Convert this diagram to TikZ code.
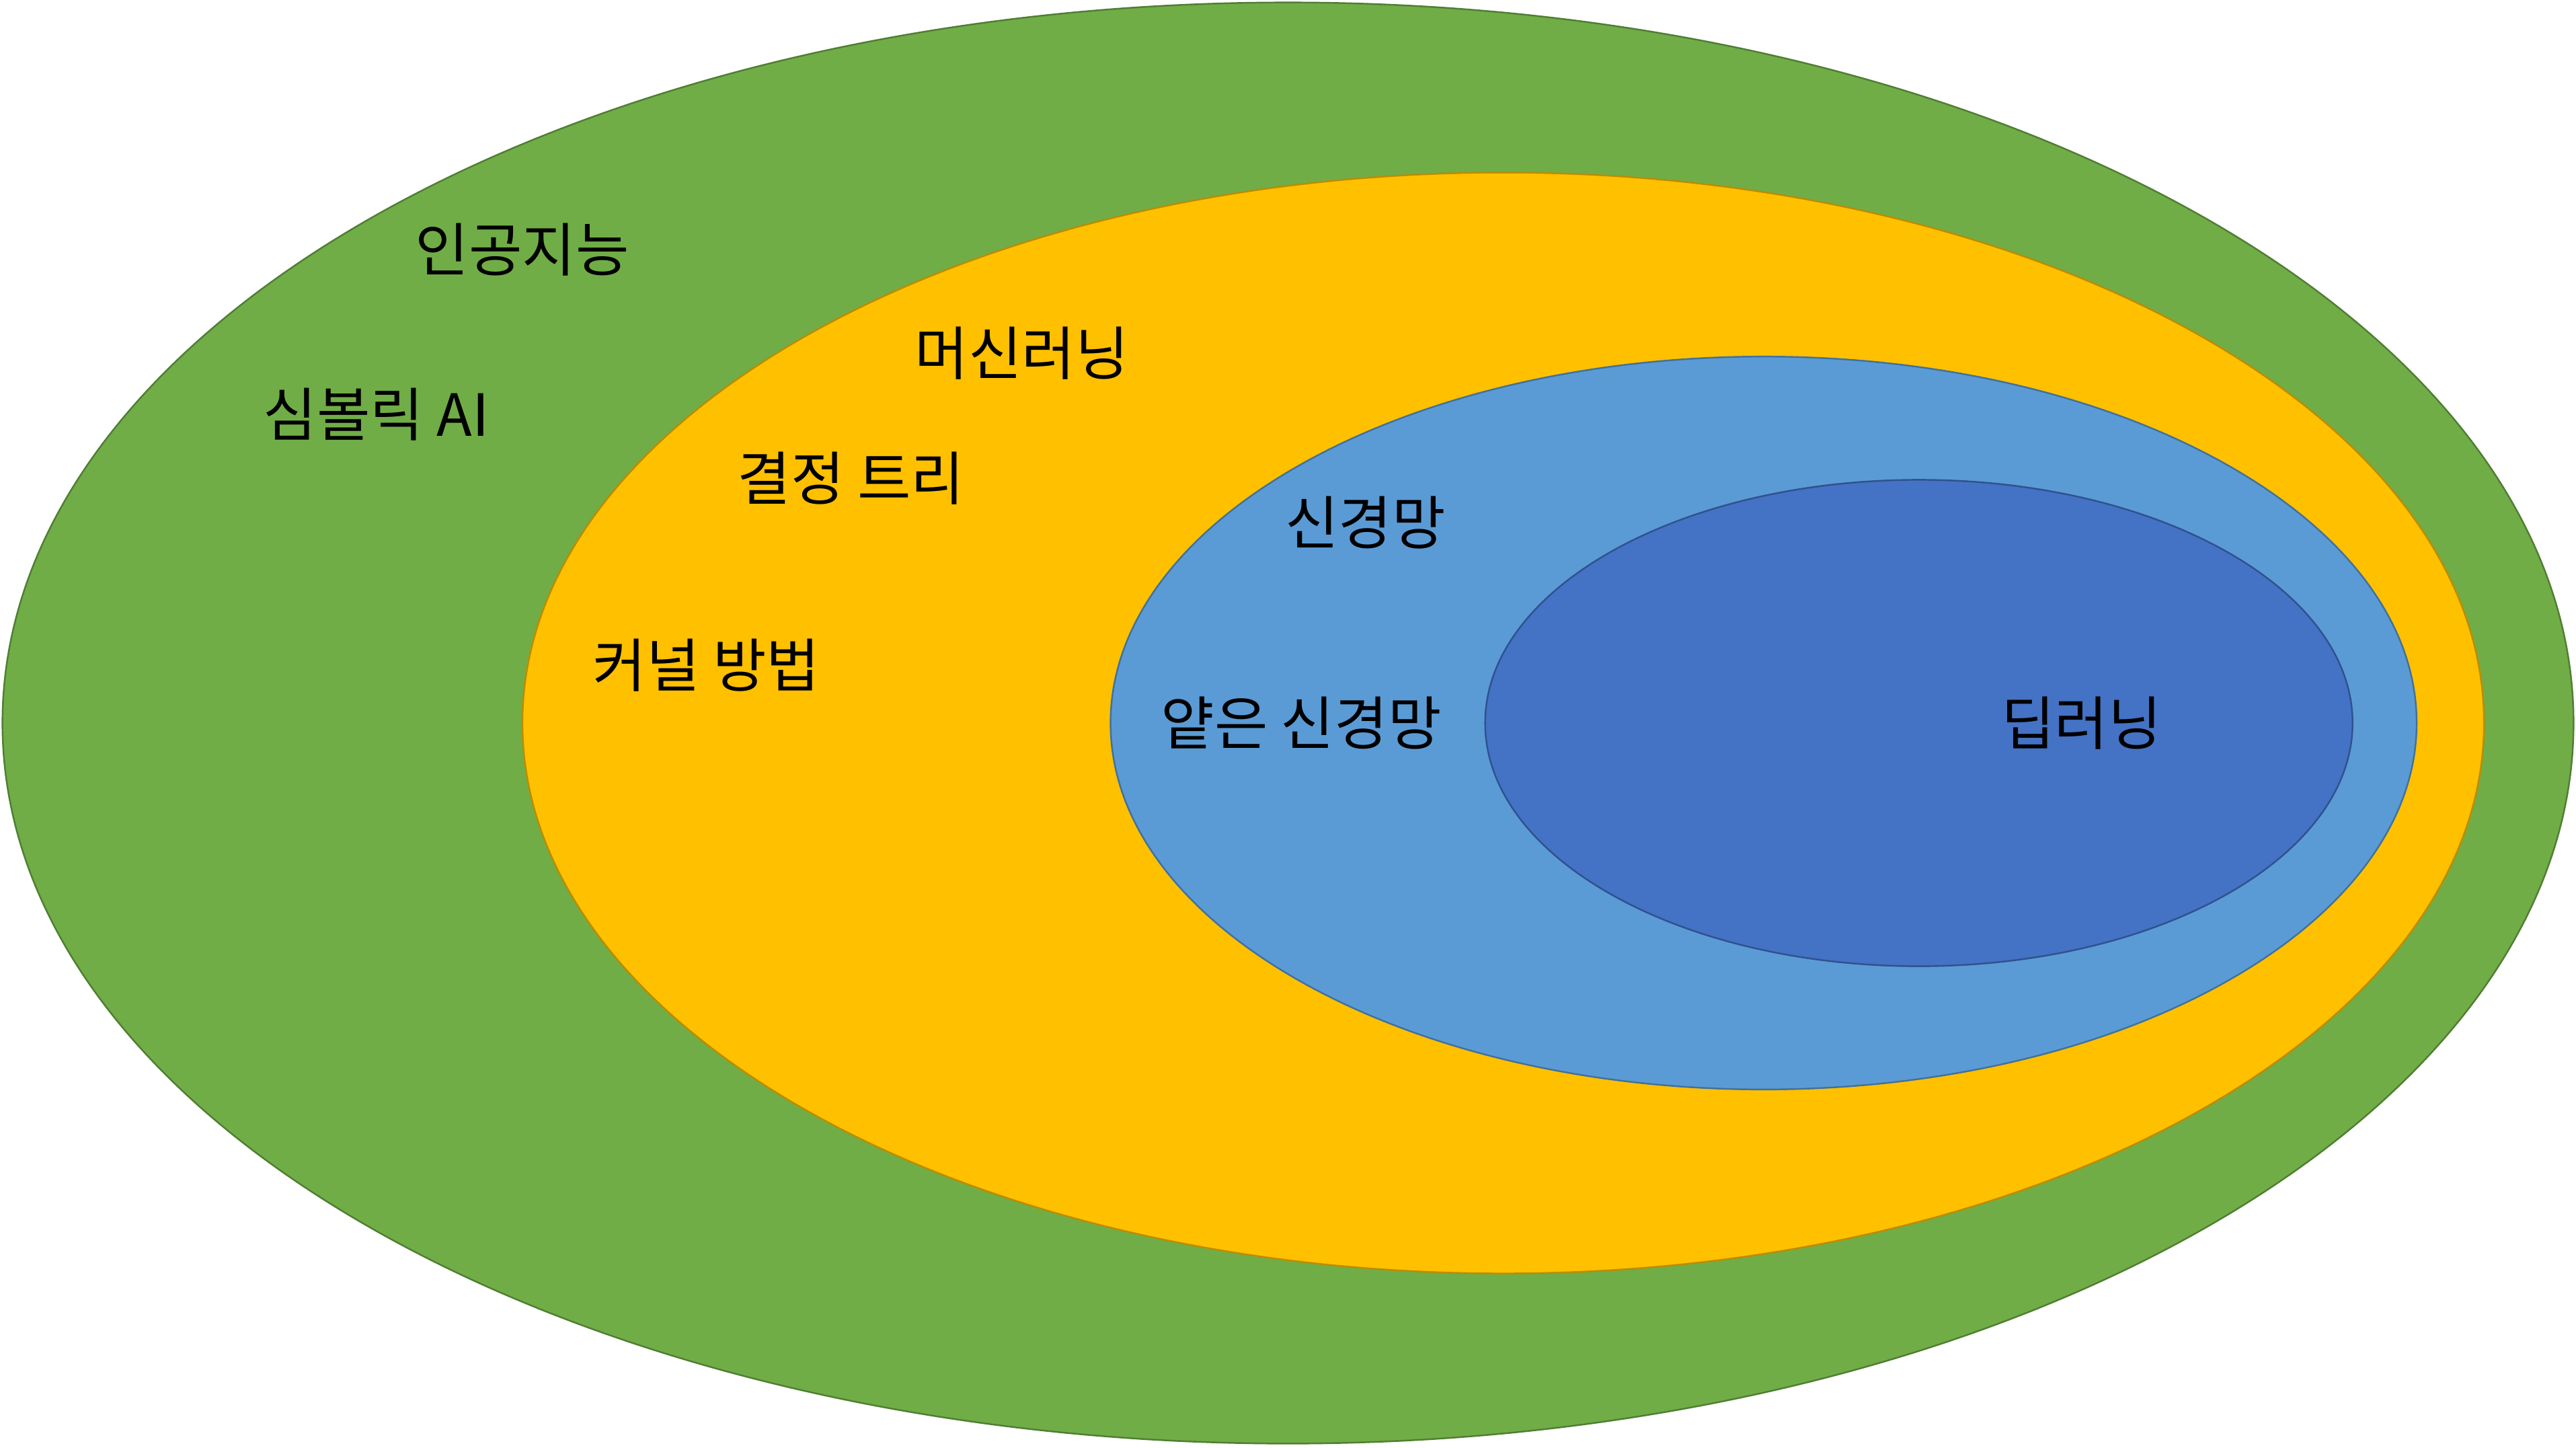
\documentclass[tikz,border=0pt]{standalone}
\usepackage{fontspec}
\newfontfamily\kr{Noto Sans CJK KR}
\definecolor{gfill}{HTML}{70AD47}\definecolor{gline}{HTML}{507E32}
\definecolor{yfill}{HTML}{FFC000}\definecolor{yline}{HTML}{BC8C00}
\definecolor{lbfill}{HTML}{5B9BD5}\definecolor{lbline}{HTML}{41719C}
\definecolor{dbfill}{HTML}{4472C4}\definecolor{dbline}{HTML}{2F528F}
\tikzset{
  set/.style={line width=0.7pt},
  lbl/.style={font=\kr\fontsize{24.6}{29}\selectfont, inner sep=0pt, text=black}
}
\begin{document}
\begin{tikzpicture}[x=0.024432cm,y=-0.024432cm]
\useasboundingbox (0,0) rectangle (1568,880.8);
\fill[white] (0,0) rectangle (1568,880.8);
\draw[set, fill=gfill, draw=gline] (784,440) ellipse [x radius=782.5, y radius=438.5];
\draw[set, fill=yfill, draw=yline] (915,440) ellipse [x radius=597, y radius=335];
\draw[set, fill=lbfill, draw=lbline] (1073.5,440) ellipse [x radius=397.5, y radius=223];
\draw[set, fill=dbfill, draw=dbline] (1168,440) ellipse [x radius=264, y radius=148];
\node[lbl] (ai) at (318,152) {인공지능};
\node[lbl] (ml) at (622,215) {머신러닝};
\node[lbl] (sym) at (229,252) {심볼릭 AI};
\node[lbl] (dt) at (518,291) {결정 트리};
\node[lbl] (nn) at (831,318) {신경망};
\node[lbl] (kern) at (430,405) {커널 방법};
\node[lbl] (snn) at (792,440) {얕은 신경망};
\node[lbl] (dl) at (1267,440) {딥러닝};
\end{tikzpicture}
\end{document}
